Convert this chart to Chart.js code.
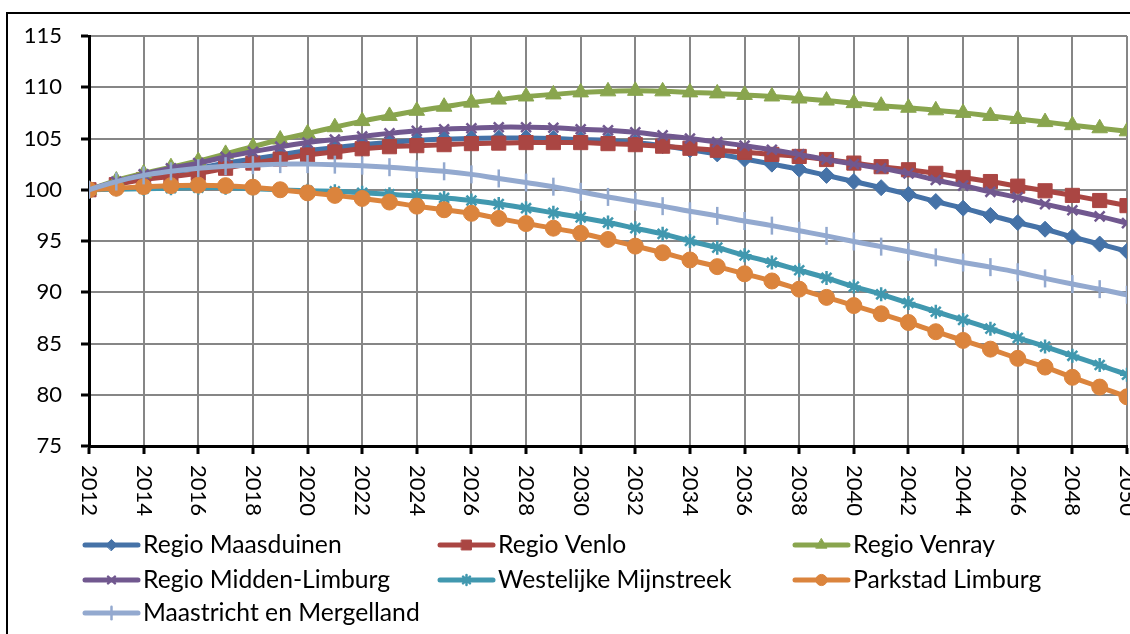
<!DOCTYPE html>
<html>
<head>
<meta charset="utf-8">
<script src="https://cdn.jsdelivr.net/npm/chart.js@4.4.1/dist/chart.umd.min.js"></script>
<style>
  html, body { margin: 0; padding: 0; background: #fff; }
  #wrap { width: 1130px; height: 634px; }
</style>
</head>
<body>
<div id="wrap"><canvas id="bevolkingChart" width="1130" height="634"></canvas></div>
<script>
// jaren en index (2012 = 100)
const years = [2012, 2013, 2014, 2015, 2016, 2017, 2018, 2019, 2020, 2021, 2022, 2023, 2024, 2025, 2026, 2027, 2028, 2029, 2030,
  2031, 2032, 2033, 2034, 2035, 2036, 2037, 2038, 2039, 2040, 2041, 2042, 2043, 2044, 2045, 2046, 2047, 2048, 2049, 2050];
const xTickLabels = ["2012", "2014", "2016", "2018", "2020", "2022", "2024", "2026", "2028", "2030",
  "2032", "2034", "2036", "2038", "2040", "2042", "2044", "2046", "2048", "2050"];
const yTicks = [75, 80, 85, 90, 95, 100, 105, 110, 115];

const seriesNames = ["Regio Maasduinen", "Regio Venlo", "Regio Venray", "Regio Midden-Limburg",
  "Westelijke Mijnstreek", "Parkstad Limburg", "Maastricht en Mergelland"];

const maasduinen = [100, 100.6, 101.2, 101.7, 102.1, 102.6, 103.0, 103.4, 103.8, 104.1, 104.4, 104.6, 104.8, 104.95, 105.0, 105.05,
  105.05, 105.0, 104.9, 104.8, 104.6, 104.3, 103.9, 103.5, 103.0, 102.5, 102.0, 101.4, 100.8, 100.2, 99.55, 98.85, 98.2, 97.5,
  96.8, 96.15, 95.4, 94.7, 94.0];
const venlo = [100, 100.5, 101.0, 101.3, 101.6, 102.1, 102.6, 103.0, 103.4, 103.7, 104.0, 104.2, 104.3, 104.4, 104.5, 104.55,
  104.6, 104.6, 104.6, 104.5, 104.4, 104.25, 104.05, 103.85, 103.65, 103.45, 103.25, 102.95, 102.6, 102.25, 101.95, 101.6,
  101.2, 100.8, 100.35, 99.9, 99.45, 98.95, 98.45];
const venray = [100, 100.9, 101.6, 102.2, 102.8, 103.5, 104.2, 104.9, 105.5, 106.1, 106.7, 107.2, 107.7, 108.1, 108.5, 108.8,
  109.1, 109.3, 109.5, 109.6, 109.65, 109.6, 109.5, 109.4, 109.25, 109.1, 108.9, 108.7, 108.45, 108.2, 108.0, 107.75, 107.5,
  107.2, 106.9, 106.6, 106.3, 106.0, 105.7];
const middenLimburg = [100, 100.8, 101.5, 102.1, 102.6, 103.2, 103.7, 104.2, 104.6, 104.9, 105.2, 105.5, 105.75, 105.9, 106.0,
  106.1, 106.1, 106.05, 105.9, 105.8, 105.6, 105.3, 105.0, 104.65, 104.3, 103.9, 103.45, 102.95, 102.5, 102.1, 101.6, 100.95,
  100.4, 99.8, 99.25, 98.6, 98.0, 97.4, 96.75];
const westMijnstreek = [100, 100.05, 100.1, 100.15, 100.2, 100.2, 100.1, 100.0, 99.9, 99.85, 99.7, 99.55, 99.4, 99.2, 98.95,
  98.6, 98.2, 97.75, 97.3, 96.8, 96.25, 95.7, 95.0, 94.35, 93.6, 92.9, 92.15, 91.4, 90.55, 89.8, 88.95, 88.1, 87.3, 86.45,
  85.55, 84.7, 83.8, 82.9, 81.95];
const parkstad = [100, 100.15, 100.3, 100.4, 100.45, 100.4, 100.25, 100.0, 99.7, 99.45, 99.15, 98.8, 98.4, 98.05, 97.7, 97.2,
  96.7, 96.25, 95.75, 95.15, 94.5, 93.85, 93.15, 92.5, 91.8, 91.1, 90.3, 89.5, 88.7, 87.9, 87.05, 86.15, 85.3, 84.45, 83.55,
  82.7, 81.7, 80.75, 79.8];
const maastricht = [100, 100.8, 101.4, 101.8, 102.1, 102.3, 102.4, 102.5, 102.5, 102.45, 102.35, 102.2, 102.0, 101.8, 101.5,
  101.1, 100.7, 100.3, 99.8, 99.3, 98.85, 98.4, 97.9, 97.45, 96.95, 96.5, 96.0, 95.5, 94.95, 94.45, 93.95, 93.4, 92.9, 92.45,
  91.95, 91.35, 90.8, 90.3, 89.75];

const allValues = [maasduinen, venlo, venray, middenLimburg, westMijnstreek, parkstad, maastricht];
const colors = ["#4572A7", "#AA4643", "#89A54E", "#71588F", "#4198AF", "#DB843D", "#93A9CF"];
const markers = ["rectRot", "rect", "triangle", "crossRot", "star", "circle", "line"];
const markerRadius = [8, 10, 9, 7, 7, 8, 9];
const markerRotation = [0, 0, 0, 0, 0, 0, 90];

const FONT = "Lato, 'Open Sans', sans-serif";

const datasets = seriesNames.map(function (name, i) {
  const lineLike = markers[i] === "crossRot" || markers[i] === "star" || markers[i] === "line";
  return {
    label: name,
    data: years.map(function (yr, j) { return { x: yr, y: allValues[i][j] }; }),
    borderColor: colors[i],
    backgroundColor: colors[i],
    borderWidth: 5,
    pointStyle: markers[i],
    pointRadius: markerRadius[i],
    pointRotation: markerRotation[i],
    pointBorderColor: colors[i],
    pointBackgroundColor: colors[i],
    pointBorderWidth: lineLike ? 2.5 : 1,
    tension: 0.4,
    order: seriesNames.length - i,
  };
});

// omlijsting, gedraaide jaartallen en legenda
const extrasPlugin = {
  id: "extras",
  beforeDraw: function (chart) {
    const ctx = chart.ctx;
    ctx.save();
    ctx.fillStyle = "#fff";
    ctx.fillRect(0, 0, chart.width, chart.height);
    ctx.strokeStyle = "#000";
    ctx.lineWidth = 2;
    ctx.beginPath();
    ctx.moveTo(7, chart.height + 5);
    ctx.lineTo(7, 13);
    ctx.lineTo(chart.width + 5, 13);
    ctx.stroke();
    ctx.restore();
  },
  afterDraw: function (chart) {
    const ctx = chart.ctx;
    const xs = chart.scales.x;
    const area = chart.chartArea;

    ctx.save();
    ctx.fillStyle = "#000";
    ctx.font = "22px " + FONT;
    xTickLabels.forEach(function (lbl) {
      const px = xs.getPixelForValue(Number(lbl));
      ctx.save();
      ctx.translate(px, area.bottom + 19);
      ctx.rotate(Math.PI / 2);
      ctx.textAlign = "left";
      ctx.textBaseline = "middle";
      ctx.fillText(lbl, 0, 0);
      ctx.restore();
    });

    const colX = [83, 438, 793];
    const rowY = [545, 580, 613];
    seriesNames.forEach(function (name, i) {
      const cx = colX[i % 3];
      const cy = rowY[Math.floor(i / 3)];
      ctx.strokeStyle = colors[i];
      ctx.lineWidth = 5;
      ctx.lineCap = "round";
      ctx.beginPath();
      ctx.moveTo(cx + 2, cy);
      ctx.lineTo(cx + 55, cy);
      ctx.stroke();
      ctx.fillStyle = colors[i];
      ctx.lineWidth = datasets[i].pointBorderWidth;
      Chart.helpers.drawPoint(ctx, {
        pointStyle: markers[i],
        radius: markerRadius[i] * 0.7,
        rotation: markerRotation[i],
        borderWidth: datasets[i].pointBorderWidth,
      }, cx + 28.5, cy);
      ctx.fillStyle = "#000";
      ctx.font = "24.7px " + FONT;
      ctx.textAlign = "left";
      ctx.textBaseline = "middle";
      ctx.fillText(name, cx + 60, cy);
    });
    ctx.restore();
  },
};

document.addEventListener("DOMContentLoaded", function () {
  const canvas = document.getElementById("bevolkingChart");
  const ctx = canvas.getContext("2d");
  new Chart(ctx, {
    type: "line",
    data: { datasets: datasets },
    options: {
      responsive: false,
      maintainAspectRatio: false,
      animation: false,
      layout: { autoPadding: false, padding: { top: 36, right: 3, left: 0, bottom: 0 } },
      plugins: {
        legend: { display: false },
        tooltip: { enabled: false },
      },
      scales: {
        x: {
          type: "linear",
          min: years[0],
          max: years[years.length - 1],
          ticks: { display: false, stepSize: 2 },
          grid: { color: "#868686", lineWidth: 2, tickColor: "#000", tickWidth: 3, tickLength: 8 },
          border: { color: "#000", width: 3 },
          afterFit: function (scale) {
            scale.height = 188;
            scale.paddingLeft = 0;
            scale.paddingRight = 0;
          },
        },
        y: {
          min: yTicks[0],
          max: yTicks[yTicks.length - 1],
          afterBuildTicks: function (scale) {
            scale.ticks = yTicks.map(function (v) { return { value: v }; });
          },
          ticks: { color: "#000", font: { family: FONT, size: 22 }, padding: 19 },
          grid: { color: "#868686", lineWidth: 2, tickColor: "#000", tickWidth: 3, tickLength: 8 },
          border: { color: "#000", width: 3 },
          afterFit: function (scale) { scale.width = 89; },
        },
      },
    },
    plugins: [extrasPlugin],
  });
});
</script>
</body>
</html>
